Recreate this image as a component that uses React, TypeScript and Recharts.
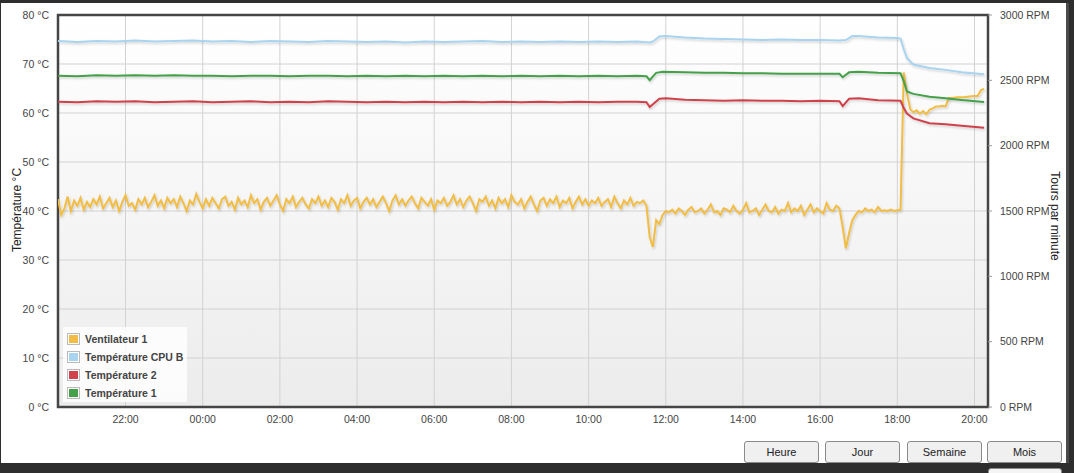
import React from "react";
import { LineChart, Line, XAxis, YAxis, CartesianGrid, ReferenceArea } from "recharts";

// Fan speed (RPM), one sample every 5 minutes starting 20:15
const fanStartHour = 20.25;
const fanStepMinutes = 5;
const fanRpm = [
  1590, 1470, 1520, 1610, 1500, 1580, 1540, 1600, 1510, 1570, 1530, 1590,
  1550, 1610, 1520, 1560, 1600, 1530, 1580, 1500, 1570, 1620, 1540, 1560,
  1510, 1590, 1550, 1600, 1530, 1570, 1620, 1540, 1580, 1520, 1600, 1560,
  1590, 1530, 1610, 1560, 1500, 1580, 1550, 1630, 1570, 1520, 1590, 1540,
  1600, 1560, 1520, 1590, 1610, 1540, 1570, 1510, 1600, 1550, 1580, 1530,
  1620, 1560, 1590, 1510, 1570, 1600, 1540, 1580, 1620, 1550, 1500, 1590,
  1560, 1610, 1530, 1570, 1600, 1550, 1520, 1590, 1560, 1610, 1540, 1580,
  1530, 1600, 1570, 1510, 1590, 1560, 1620, 1540, 1580, 1600, 1520, 1570,
  1600, 1550, 1590, 1530, 1570, 1610, 1560, 1500, 1580, 1620, 1550, 1590,
  1540, 1580, 1610, 1560, 1520, 1600, 1570, 1540, 1590, 1510, 1580, 1560,
  1600, 1540, 1570, 1620, 1550, 1590, 1530, 1580, 1610, 1560, 1500, 1590,
  1570, 1610, 1540, 1580, 1520, 1600, 1560, 1590, 1530, 1620, 1570, 1550,
  1590, 1520, 1570, 1610, 1550, 1500, 1580, 1600, 1540, 1590, 1560, 1610,
  1530, 1580, 1560, 1600, 1520, 1570, 1610, 1550, 1590, 1540, 1580, 1560,
  1600, 1540, 1570, 1590, 1530, 1610, 1560, 1520, 1580, 1550, 1600, 1540,
  1570, 1560, 1580, 1540,
  1300, 1225, 1430, 1400, 1470, 1500,
  1490, 1510, 1480, 1520, 1500, 1470, 1510, 1530, 1490, 1500, 1520, 1480,
  1510, 1550, 1490, 1500, 1470, 1520, 1510, 1490, 1540, 1500, 1480, 1510,
  1560, 1490, 1500, 1520, 1470, 1510, 1550, 1500, 1490, 1530, 1480, 1510,
  1500, 1560, 1490, 1520, 1500, 1540, 1470, 1510, 1550, 1490, 1520, 1500,
  1480, 1560, 1510, 1500, 1540, 1520,
  1380, 1215, 1330, 1430, 1470, 1500,
  1490, 1520, 1500, 1510, 1490, 1530, 1500, 1505, 1500, 1510, 1500, 1505, 1510,
  2560,
  2400, 2280, 2255, 2270, 2245, 2265, 2240, 2275, 2285, 2300, 2300, 2305, 2300,
  2365, 2365, 2368, 2370, 2370, 2372, 2375, 2378, 2380,
  2380, 2425, 2435,
];

const cpuB: [string, number][] = [
  ["20:15", 74.7], ["20:45", 74.5], ["21:15", 74.7], ["21:45", 74.6], ["22:15", 74.8],
  ["22:45", 74.6], ["23:15", 74.7], ["23:45", 74.8], ["00:15", 74.6], ["00:45", 74.7],
  ["01:15", 74.5], ["01:45", 74.7], ["02:15", 74.6], ["02:45", 74.5], ["03:15", 74.7],
  ["03:45", 74.6], ["04:15", 74.5], ["04:45", 74.6], ["05:15", 74.4], ["05:45", 74.6],
  ["06:15", 74.5], ["06:45", 74.6], ["07:15", 74.7], ["07:45", 74.5], ["08:15", 74.6],
  ["08:45", 74.5], ["09:15", 74.6], ["09:45", 74.5], ["10:15", 74.6], ["10:45", 74.5],
  ["11:15", 74.6], ["11:35", 74.4], ["11:40", 74.6], ["11:50", 75.6], ["12:00", 75.7],
  ["12:30", 75.4], ["13:00", 75.2], ["13:30", 75.1], ["14:00", 75.0], ["14:30", 74.9],
  ["15:00", 75.0], ["15:30", 74.9], ["16:00", 74.9], ["16:30", 74.8], ["16:40", 74.9],
  ["16:50", 75.7], ["17:00", 75.7], ["17:30", 75.4], ["18:00", 75.3], ["18:05", 75.2],
  ["18:10", 73.0], ["18:15", 71.2], ["18:25", 69.9], ["18:50", 69.2], ["19:15", 68.8],
  ["19:40", 68.3], ["20:15", 67.9],
];

const temp2: [string, number][] = [
  ["20:15", 62.3], ["20:45", 62.2], ["21:15", 62.4], ["21:45", 62.3], ["22:15", 62.4],
  ["22:45", 62.2], ["23:15", 62.3], ["23:45", 62.4], ["00:15", 62.2], ["00:45", 62.3],
  ["01:15", 62.4], ["01:45", 62.2], ["02:15", 62.3], ["02:45", 62.2], ["03:15", 62.4],
  ["03:45", 62.3], ["04:15", 62.2], ["04:45", 62.3], ["05:15", 62.2], ["05:45", 62.3],
  ["06:15", 62.2], ["06:45", 62.3], ["07:15", 62.2], ["07:45", 62.3], ["08:15", 62.2],
  ["08:45", 62.3], ["09:15", 62.2], ["09:45", 62.3], ["10:15", 62.2], ["10:45", 62.3],
  ["11:15", 62.3], ["11:30", 62.2], ["11:35", 61.2], ["11:50", 62.9], ["12:00", 63.0],
  ["12:30", 62.7], ["13:00", 62.6], ["13:30", 62.5], ["14:00", 62.6], ["14:30", 62.5],
  ["15:00", 62.5], ["15:30", 62.4], ["16:00", 62.5], ["16:30", 62.4], ["16:35", 61.4],
  ["16:45", 62.9], ["17:00", 63.0], ["17:30", 62.6], ["18:05", 62.5], ["18:10", 61.0],
  ["18:15", 59.9], ["18:25", 58.9], ["18:50", 57.9], ["19:15", 57.7], ["19:40", 57.4],
  ["20:15", 57.0],
];

const temp1: [string, number][] = [
  ["20:15", 67.6], ["20:45", 67.5], ["21:15", 67.7], ["21:45", 67.6], ["22:15", 67.7],
  ["22:45", 67.6], ["23:15", 67.7], ["23:45", 67.6], ["00:15", 67.6], ["00:45", 67.5],
  ["01:15", 67.6], ["01:45", 67.6], ["02:15", 67.5], ["02:45", 67.6], ["03:15", 67.6],
  ["03:45", 67.5], ["04:15", 67.6], ["04:45", 67.5], ["05:15", 67.6], ["05:45", 67.5],
  ["06:15", 67.6], ["06:45", 67.5], ["07:15", 67.6], ["07:45", 67.5], ["08:15", 67.6],
  ["08:45", 67.5], ["09:15", 67.6], ["09:45", 67.5], ["10:15", 67.6], ["10:45", 67.5],
  ["11:15", 67.6], ["11:30", 67.5], ["11:35", 66.7], ["11:45", 68.2], ["11:55", 68.4],
  ["12:30", 68.3], ["13:00", 68.2], ["13:30", 68.2], ["14:00", 68.1], ["14:30", 68.1],
  ["15:00", 68.0], ["15:30", 68.0], ["16:00", 68.0], ["16:30", 68.0], ["16:35", 67.3],
  ["16:45", 68.3], ["17:00", 68.4], ["17:30", 68.2], ["18:05", 68.1], ["18:10", 66.5],
  ["18:15", 64.4], ["18:25", 63.9], ["18:50", 63.3], ["19:15", 63.0], ["19:40", 62.65],
  ["20:15", 62.25],
];

const xTicks = [22, 24, 26, 28, 30, 32, 34, 36, 38, 40, 42, 44];
const tempTicks = [0, 10, 20, 30, 40, 50, 60, 70, 80];
const rpmTicks = [0, 500, 1000, 1500, 2000, 2500, 3000];
const xDomain: [number, number] = [20.25, 44.35];

const seriesNames = ["Ventilateur 1", "Température CPU B", "Température 2", "Température 1"];
const seriesColors = ["#f2bd45", "#a9d4f0", "#d0434b", "#45a14a"];
const buttonLabels = ["Heure", "Jour", "Semaine", "Mois"];

// Convert "HH:MM" clock times into continuous hours, adding a day when the clock wraps
const toPoints = (arr: [string, number][]) => {
  let dayOffset = 0;
  let prev = -1;
  return arr.map(([s, v]) => {
    const [h, m] = s.split(":").map(Number);
    const clock = h + m / 60;
    if (clock < prev) dayOffset += 24;
    prev = clock;
    return { t: clock + dayOffset, v };
  });
};

const fanData = fanRpm.map((v, i) => ({ t: fanStartHour + (i * fanStepMinutes) / 60, v }));
const cpuBData = toPoints(cpuB);
const temp2Data = toPoints(temp2);
const temp1Data = toPoints(temp1);

const fmtHour = (h: number) => `${String(Math.round(h) % 24).padStart(2, "0")}:00`;

const FONT = "'Liberation Sans', Arial, sans-serif";
const tickStyle = { fill: "#444", fontSize: 10.5, fontFamily: FONT };

export default function App() {
  const buttonX = [744, 825, 907, 987];
  return (
    <div style={{ position: "absolute", left: 0, top: 0, width: 1074, height: 473, background: "#2e2e2e", overflow: "hidden", fontFamily: FONT }}>
      <svg width={0} height={0} style={{ position: "absolute" }}>
        <defs>
          <linearGradient id="plotBg" x1="0" y1="0" x2="0" y2="1">
            <stop offset="0%" stopColor="#ffffff" />
            <stop offset="100%" stopColor="#ececec" />
          </linearGradient>
          <filter id="lineShadow" x="-5%" y="-20%" width="110%" height="140%">
            <feDropShadow dx="1" dy="1.5" stdDeviation="1" floodColor="#000" floodOpacity="0.18" />
          </filter>
        </defs>
      </svg>
      <div style={{ position: "absolute", left: 1, top: 3, width: 1065, height: 460, background: "#fff" }} />
      <div style={{ position: "absolute", left: 1066, top: 3, width: 3, height: 460, background: "#4a4a4a" }} />
      <div style={{ position: "absolute", left: 0, top: 0 }}>
        <LineChart width={1074} height={473} margin={{ top: 15, right: 0, bottom: 36, left: 0 }}>
          <CartesianGrid yAxisId="left" stroke="#d2d2d2" strokeWidth={1} fill="url(#plotBg)" />
          <XAxis
            dataKey="t"
            type="number"
            domain={xDomain}
            allowDataOverflow
            ticks={xTicks}
            tickFormatter={fmtHour}
            axisLine={false}
            tickLine={false}
            tickSize={0}
            tickMargin={9}
            height={30}
            tick={tickStyle}
          />
          <YAxis
            yAxisId="left"
            domain={[0, 80]}
            ticks={tempTicks}
            tickFormatter={(v: number) => `${v} °C`}
            axisLine={false}
            tickLine={false}
            tickSize={0}
            tickMargin={9}
            width={58}
            tick={tickStyle}
          />
          <YAxis
            yAxisId="right"
            orientation="right"
            domain={[0, 3000]}
            ticks={rpmTicks}
            tickFormatter={(v: number) => `${v} RPM`}
            axisLine={false}
            tickLine={{ stroke: "#999" }}
            tickSize={4}
            tickMargin={8}
            width={86}
            tick={tickStyle}
          />
          <Line yAxisId="right" data={fanData} dataKey="v" stroke={seriesColors[0]} strokeWidth={2} dot={false} activeDot={false} isAnimationActive={false} filter="url(#lineShadow)" />
          <Line yAxisId="left" data={cpuBData} dataKey="v" stroke={seriesColors[1]} strokeWidth={2} dot={false} activeDot={false} isAnimationActive={false} filter="url(#lineShadow)" />
          <Line yAxisId="left" data={temp2Data} dataKey="v" stroke={seriesColors[2]} strokeWidth={2} dot={false} activeDot={false} isAnimationActive={false} filter="url(#lineShadow)" />
          <Line yAxisId="left" data={temp1Data} dataKey="v" stroke={seriesColors[3]} strokeWidth={2} dot={false} activeDot={false} isAnimationActive={false} filter="url(#lineShadow)" />
          <ReferenceArea yAxisId="left" x1={xDomain[0]} x2={xDomain[1]} y1={0} y2={80} fill="none" fillOpacity={0} stroke="#454545" strokeWidth={2.5} ifOverflow="visible" />
        </LineChart>
      </div>
      <svg width={1074} height={473} style={{ position: "absolute", left: 0, top: 0, pointerEvents: "none" }}>
        <text x={17} y={210} transform="rotate(-90 17 210)" textAnchor="middle" dominantBaseline="central" fontSize={12} fill="#222" fontFamily={FONT}>Température °C</text>
        <text x={1055} y={216} transform="rotate(90 1055 216)" textAnchor="middle" dominantBaseline="central" fontSize={12} fill="#222" fontFamily={FONT}>Tours par minute</text>
      </svg>
      <div style={{ position: "absolute", left: 63, top: 327, width: 124, height: 75, background: "rgba(255,255,255,0.8)" }}>
        {seriesNames.map((name, i) => (
          <div key={name} style={{ position: "absolute", left: 4, top: 5 + i * 18, height: 13, display: "flex", alignItems: "center" }}>
            <div style={{ width: 11, height: 10, border: "1px solid #bbb", background: "#fff", display: "flex", alignItems: "center", justifyContent: "center" }}>
              <div style={{ width: 9, height: 8, background: seriesColors[i] }} />
            </div>
            <span style={{ marginLeft: 5, fontSize: 10.5, fontWeight: "bold", color: "#444", whiteSpace: "nowrap" }}>{name}</span>
          </div>
        ))}
      </div>
      {buttonLabels.map((b, i) => (
        <div key={b} style={{ position: "absolute", left: buttonX[i], top: 441, width: 73, height: 20, border: "1px solid #8a8a8a", borderRadius: 3, background: "#f0f0f0", fontSize: 11, color: "#222", display: "flex", alignItems: "center", justifyContent: "center", boxSizing: "content-box" }}>{b}</div>
      ))}
      <div style={{ position: "absolute", left: 988, top: 468, width: 72, height: 10, border: "1px solid #8a8a8a", borderRadius: 3, background: "#f4f4f4" }} />
    </div>
  );
}
